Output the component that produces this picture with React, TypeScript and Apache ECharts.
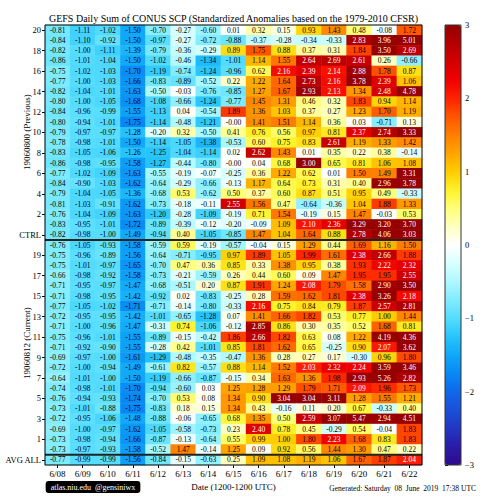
import React, { useEffect, useRef } from 'react';
import * as echarts from 'echarts';

const dates = ['6/08', '6/09', '6/10', '6/11', '6/12', '6/13', '6/14', '6/15', '6/16', '6/17', '6/18', '6/19', '6/20', '6/21', '6/22'];
const rowNames = ['20', '19', '18', '17', '16', '15', '14', '13', '12', '11', '10', '9', '8', '7', '6', '5', '4', '3', '2', '1', 'CTRL'];

// 19060800 (Previous) block, rows 20 .. 1, CTRL
const prevRows = [
  [-0.81, -1.11, -1.02, -1.50, -0.70, -0.27, -0.60, 0.01, 0.32, 0.15, 0.93, 1.43, 0.48, -0.08, 1.72],
  [-0.84, -1.10, -0.92, -1.50, -0.97, -0.27, -0.72, -0.88, -0.37, -0.28, -0.34, -0.33, 2.83, 3.96, 5.01],
  [-0.82, -1.00, -1.11, -1.39, -0.79, -0.36, -0.29, 0.89, 1.75, 0.88, 0.37, 0.31, 1.84, 3.50, 2.69],
  [-0.86, -1.01, -1.04, -1.50, -1.02, -0.46, -1.34, -1.01, 1.14, 1.55, 2.64, 2.69, 2.61, 0.26, -0.66],
  [-0.75, -1.02, -1.03, -1.70, -1.19, -0.74, -1.24, -0.96, 0.62, 2.16, 2.39, 2.14, 2.88, 1.78, 0.87],
  [-0.77, -1.00, -1.03, -1.66, -0.83, -0.89, -0.52, 0.22, 1.22, 1.64, 2.73, 2.16, 3.78, 2.39, 1.06],
  [-0.82, -1.04, -1.01, -1.63, -0.50, -0.03, -0.76, -0.85, 1.27, 1.67, 2.93, 2.13, 1.34, 2.48, 4.78],
  [-0.80, -1.00, -1.05, -1.68, -1.08, -0.66, -1.24, -0.77, 1.45, 1.31, 0.46, 0.32, 1.83, 0.94, 1.14],
  [-0.84, -0.96, -0.99, -1.55, -1.13, 0.04, -0.54, 1.89, 1.36, 1.03, 0.37, 0.27, 1.23, 1.70, 1.19],
  [-0.80, -0.94, -1.01, -1.75, -1.14, -0.48, -1.21, -0.00, 1.41, 1.51, 1.14, 0.36, 0.03, -0.71, 0.13],
  [-0.79, -0.97, -0.97, -1.28, -0.20, 0.32, -0.50, 0.41, 0.76, 0.56, 0.97, 0.81, 2.37, 2.74, 3.33],
  [-0.78, -0.98, -1.01, -1.50, -1.14, -1.05, -1.38, -0.53, 0.60, 0.75, 0.83, 2.61, 1.19, 1.33, 1.42],
  [-0.83, -1.05, -1.06, -1.26, -1.25, -1.04, -1.14, 0.02, 2.62, 1.43, 0.01, 0.35, 0.22, 0.38, -0.14],
  [-0.86, -0.98, -0.95, -1.58, -1.27, -0.44, -0.80, -0.00, 0.04, 0.68, 3.00, 0.65, 0.81, 1.06, 1.08],
  [-0.77, -1.02, -1.09, -1.63, -0.55, -0.19, -0.07, -0.25, 0.36, 1.22, 0.62, 0.01, 1.50, 1.49, 3.31],
  [-0.84, -0.90, -1.03, -1.62, -0.64, -0.29, -0.66, -0.13, 1.17, 0.64, 0.73, 0.31, 0.40, 2.96, 3.78],
  [-0.79, -1.04, -1.05, -1.36, -0.68, 0.53, -0.62, 0.50, 0.37, 0.60, 0.87, 0.51, 0.95, 0.49, -0.33],
  [-0.81, -1.03, -0.91, -1.62, -0.73, -0.18, -0.11, 2.55, 1.56, 0.47, -0.64, -0.36, 1.04, 1.88, 1.33],
  [-0.76, -1.04, -1.09, -1.63, -1.20, -0.28, -1.09, -0.19, 0.71, 1.54, -0.19, 0.15, 1.47, -0.03, 0.53],
  [-0.83, -0.95, -1.01, -1.72, -0.89, -0.39, -0.12, -0.20, -0.09, 1.09, 2.10, 2.36, 3.29, 3.20, 3.70],
  [-0.82, -0.98, -1.00, -1.49, -0.94, 0.40, -1.05, -0.85, 1.47, 1.04, 1.64, 0.88, 2.78, 4.06, 3.03],
];

// 19060812 (Current) block, rows 20 .. 1, CTRL
const currRows = [
  [-0.76, -1.05, -0.93, -1.58, -0.59, 0.59, -0.19, -0.57, -0.04, 0.15, 1.29, 0.44, 1.69, 1.16, 1.50],
  [-0.75, -0.96, -0.89, -1.56, -0.64, -0.71, -0.95, 0.97, 1.89, 1.05, 1.99, 1.61, 2.38, 2.66, 1.88],
  [-0.75, -1.01, -0.97, -1.65, -0.70, 0.47, 0.36, 0.85, 0.33, 1.38, 0.95, 0.38, 1.93, 2.22, 2.32],
  [-0.66, -0.98, -0.92, -1.58, -0.73, -0.21, -0.59, 0.26, 0.44, 0.60, 0.09, 1.47, 1.95, 1.95, 2.55],
  [-0.71, -0.95, -0.97, -1.47, -0.68, -0.51, 0.20, 0.87, 1.91, 1.24, 2.08, 1.79, 1.58, 2.90, 3.50],
  [-0.71, -0.98, -0.95, -1.42, -0.92, 0.02, -0.83, -0.25, 0.28, 1.59, 1.62, 1.81, 2.38, 3.26, 2.18],
  [-0.77, -1.05, -1.02, -1.71, -0.71, -0.14, -0.80, -0.33, 2.16, 0.75, 0.84, 0.79, 1.87, 2.57, 2.81],
  [-0.72, -0.95, -0.95, -1.42, -1.01, -0.65, -1.28, 0.07, 1.41, 1.66, 1.82, 0.53, 0.77, 1.00, 1.44],
  [-0.71, -1.00, -0.96, -1.47, -0.31, 0.74, -1.06, -0.12, 2.85, 0.86, 0.30, 0.35, 0.52, 1.68, 0.81],
  [-0.75, -0.96, -1.01, -1.55, -0.89, -0.15, -0.42, 1.86, 2.66, 1.82, 0.63, 0.08, 1.22, 4.19, 4.36],
  [-0.71, -0.92, -0.90, -1.55, -0.28, 0.42, -1.01, 0.85, 1.81, 1.62, 0.65, -0.25, 0.90, 2.07, 3.62],
  [-0.69, -0.97, -1.00, -1.61, -1.29, -0.48, -0.35, -0.47, 1.36, 0.28, 0.27, 0.17, -0.30, 0.96, 1.80],
  [-0.72, -1.00, -0.94, -1.49, -0.61, 0.82, -0.57, 0.88, 1.14, 1.52, 2.03, 2.32, 2.24, 3.59, 3.46],
  [-0.64, -1.01, -1.00, -1.50, -1.19, -0.66, -0.87, -0.15, 0.34, 1.63, 1.36, 1.98, 2.93, 5.26, 2.82],
  [-0.74, -0.98, -1.01, -1.70, -0.94, -0.60, 0.03, 1.25, 1.28, 1.29, 1.79, 1.71, 2.09, 1.96, 1.73],
  [-0.76, -0.94, -0.93, -1.74, -0.70, 0.53, 0.08, 1.34, 0.90, 3.04, 3.04, 3.11, 1.28, 1.55, 1.21],
  [-0.73, -1.01, -0.88, -1.75, -0.83, 0.18, 0.15, 1.34, 0.43, -0.16, 0.11, 0.20, 0.67, -0.33, 0.40],
  [-0.72, -0.95, -1.06, -1.48, -0.88, -0.06, -0.65, 0.68, 1.35, 0.50, 2.59, 3.07, 5.47, 2.94, 4.51],
  [-0.69, -1.00, -0.97, -1.62, -1.05, -0.58, -0.73, 0.23, 2.40, 0.78, 0.45, -0.29, 0.54, -0.04, 1.83],
  [-0.73, -0.98, -0.94, -1.66, -0.87, -0.13, -0.64, 0.55, 0.99, 1.00, 1.80, 2.23, 1.68, 0.83, 1.83],
  [-0.73, -0.97, -0.93, -1.58, -0.52, 1.47, -0.14, 1.25, 0.09, 0.92, 0.56, 1.44, 1.30, 0.47, 0.22],
];

const avgAll = [-0.77, -0.99, -0.99, -1.56, -0.84, -0.15, -0.63, 0.25, 1.09, 1.08, 1.19, 1.06, 1.67, 1.87, 2.04];

// colour scale from -3 to +3 (evenly spaced stops)
const colorStops = [
  '#2e0a8e', '#2a1ca8', '#2236c2', '#1a50d8', '#1068ea', '#0888f4', '#10a8f8', '#28c4fc',
  '#55dcff', '#80ecff', '#adf8ff', '#d8ffff', '#ffffff', '#ffffc0', '#ffff78', '#fff22a',
  '#ffcc00', '#ffa500', '#ff7f00', '#ff5500', '#ff2200', '#f00000', '#d40000', '#b40000', '#960000',
];

const FONT = '"Liberation Serif", "DejaVu Serif", serif';

const fmtVal = (v: number) => (v < 0 || Object.is(v, -0) ? '-' : '') + Math.abs(v).toFixed(2);

export default function App() {
  const ref = useRef<HTMLDivElement>(null);

  useEffect(() => {
    const chart = echarts.init(ref.current!, null, { renderer: 'svg' });
    const yCats = [
      ...rowNames.map((r) => 'P|' + r),
      ...rowNames.map((r) => 'C|' + r),
      'A|AVG ALL',
    ];
    const allRows = [...prevRows, ...currRows, avgAll];
    const data: any[] = [];
    allRows.forEach((row, yi) =>
      row.forEach((v, xi) =>
        data.push({ value: [xi, yi, v], label: { color: v >= 2 ? '#ffffff' : '#000000' } })
      )
    );
    const sepRows = [[0, prevRows.length - 1], [0, prevRows.length + currRows.length - 1]];

    const G = { left: 45, top: 25, width: 377, height: 440 };
    const CB = { left: 445, top: 25, width: 16, height: 440 };

    chart.setOption({
      animation: false,
      textStyle: { fontFamily: FONT },
      grid: [
        { ...G },
        { ...CB },
      ],
      xAxis: [
        {
          type: 'category',
          gridIndex: 0,
          data: dates,
          position: 'bottom',
          axisLine: { show: false },
          axisTick: { show: true, alignWithLabel: true, length: 3, lineStyle: { color: '#000' } },
          axisLabel: { fontSize: 9, color: '#000', margin: 4, fontFamily: FONT },
          name: 'Date (1200-1200 UTC)',
          nameLocation: 'middle',
          nameGap: 16,
          nameTextStyle: { fontSize: 9, color: '#000', fontFamily: FONT },
          splitLine: { show: false },
        },
        { type: 'value', gridIndex: 1, show: false, min: 0, max: 1 },
      ],
      yAxis: [
        {
          type: 'category',
          gridIndex: 0,
          data: yCats,
          inverse: true,
          axisLine: { show: false },
          axisTick: { show: true, alignWithLabel: true, length: 3, lineStyle: { color: '#000' } },
          axisLabel: {
            fontSize: 8.5,
            color: '#000',
            margin: 4,
            fontFamily: FONT,
            formatter: (v: string) => v.split('|')[1],
          },
          splitLine: { show: false },
        },
        {
          type: 'value',
          gridIndex: 1,
          min: -3,
          max: 3,
          interval: 1,
          position: 'right',
          axisLine: { show: false },
          axisTick: { show: true, length: 3, lineStyle: { color: '#000' } },
          axisLabel: {
            fontSize: 8.5,
            color: '#000',
            margin: 4,
            fontFamily: FONT,
            formatter: (v: number) => (v < 0 ? '\u2212' + Math.abs(v) : String(v)),
          },
          splitLine: { show: false },
        },
      ],
      visualMap: {
        type: 'continuous',
        seriesIndex: 0,
        min: -3,
        max: 3,
        calculable: false,
        hoverLink: false,
        orient: 'vertical',
        left: CB.left,
        top: CB.top,
        itemWidth: CB.width,
        itemHeight: CB.height,
        padding: 0,
        inRange: { color: colorStops },
      },
      series: [
        {
          type: 'heatmap',
          xAxisIndex: 0,
          yAxisIndex: 0,
          data,
          label: {
            show: true,
            fontSize: 7.5,
            fontFamily: FONT,
            formatter: (p: any) => fmtVal(p.value[2]),
          },
          itemStyle: { borderWidth: 0 },
          emphasis: { disabled: true },
        },
        {
          type: 'custom',
          xAxisIndex: 0,
          yAxisIndex: 0,
          data: sepRows,
          z: 5,
          silent: true,
          renderItem: (params: any, api: any) => {
            const c = api.coord([0, api.value(1)]);
            const s = api.size([1, 1]);
            const x0 = c[0] - s[0] / 2;
            const y = c[1] + s[1] / 2;
            return {
              type: 'line',
              shape: { x1: x0, y1: y, x2: x0 + s[0] * dates.length, y2: y },
              style: { stroke: '#222', lineWidth: 2 },
            };
          },
        },
      ],
      graphic: [
        {
          type: 'rect',
          shape: { x: G.left, y: G.top, width: G.width, height: G.height },
          style: { fill: 'none', stroke: '#000', lineWidth: 1 },
          z: 100,
          silent: true,
        },
        {
          type: 'rect',
          shape: { x: CB.left, y: CB.top, width: CB.width, height: CB.height },
          style: { fill: 'none', stroke: '#333', lineWidth: 1 },
          z: 100,
          silent: true,
        },
        {
          type: 'text',
          x: G.left + G.width / 2,
          y: 18,
          style: {
            text: 'GEFS Daily Sum of CONUS SCP (Standardized Anomalies based on the 1979-2010 CFSR)',
            fontSize: 10,
            fontFamily: FONT,
            fill: '#000',
            align: 'center',
            verticalAlign: 'middle',
          },
        },
        {
          type: 'text',
          x: 27,
          y: 132,
          rotation: Math.PI / 2,
          style: {
            text: '19060800 (Previous)',
            fontSize: 9,
            fontFamily: FONT,
            fill: '#000',
            align: 'center',
            verticalAlign: 'middle',
          },
        },
        {
          type: 'text',
          x: 27,
          y: 343,
          rotation: Math.PI / 2,
          style: {
            text: '19060812 (Current)',
            fontSize: 9,
            fontFamily: FONT,
            fill: '#000',
            align: 'center',
            verticalAlign: 'middle',
          },
        },
        {
          type: 'text',
          x: 93,
          y: 487,
          style: {
            text: 'atlas.niu.edu  @gensiniwx',
            fontSize: 8,
            fontFamily: FONT,
            fill: '#fff',
            align: 'center',
            verticalAlign: 'middle',
            backgroundColor: '#000',
            padding: [2, 5, 2, 5],
            borderRadius: 3,
          },
        },
        {
          type: 'text',
          x: 476,
          y: 488,
          style: {
            text: 'Generated: Saturday  08  June  2019  17:38 UTC',
            fontSize: 7.5,
            fontFamily: FONT,
            fill: '#000',
            align: 'right',
            verticalAlign: 'middle',
          },
        },
      ],
    });
    return () => chart.dispose();
  }, []);

  return (
    <div
      ref={ref}
      style={{ position: 'absolute', left: 0, top: 0, width: 500, height: 500 }}
    />
  );
}
